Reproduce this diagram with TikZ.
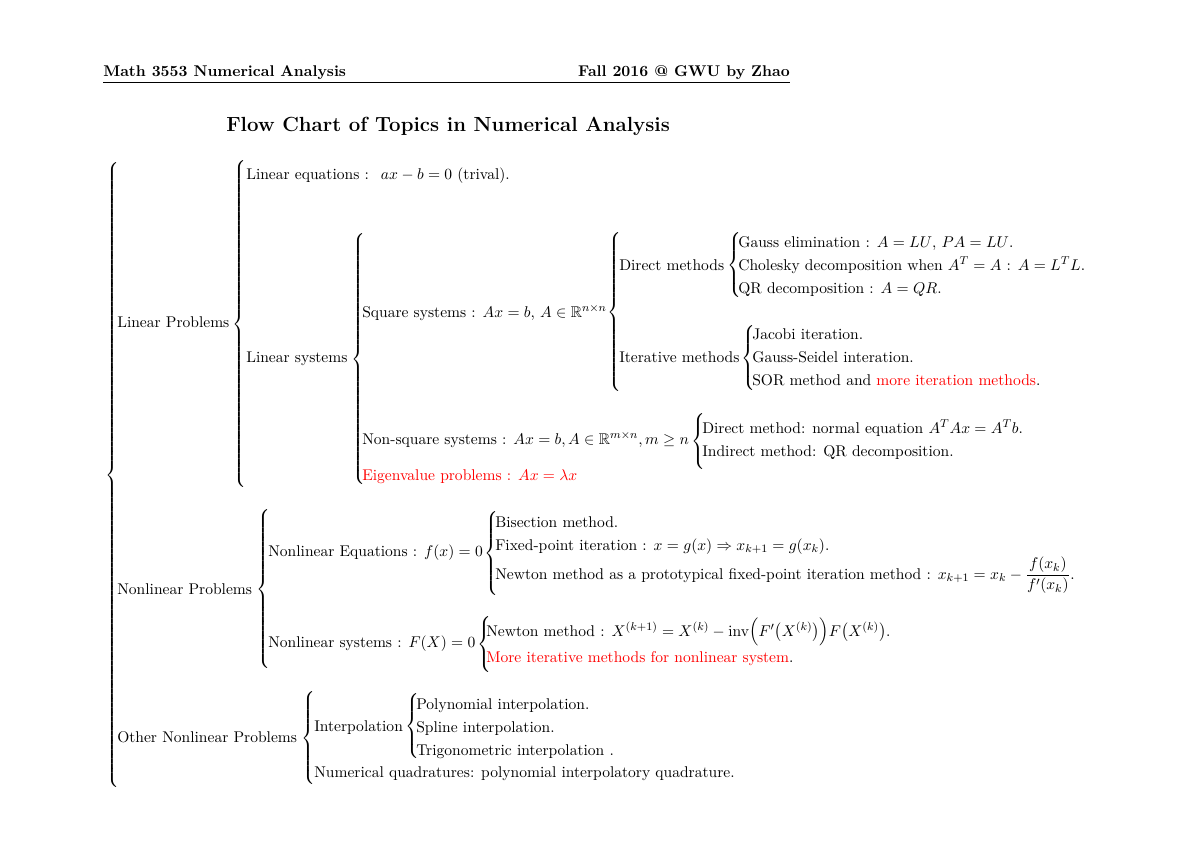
\documentclass[tikz,border=0pt]{standalone}
\usepackage{amsmath}
\usepackage{amssymb}
\delimiterfactor=1000
\delimitershortfall=0pt
\tikzset{
  txt/.style={anchor=base west, inner sep=0pt, font=\fontsize{10.95}{13.6}\selectfont},
  hdr/.style={anchor=base west, inner sep=0pt, font=\fontsize{10.95}{13.6}\selectfont\bfseries},
  hdrr/.style={anchor=base east, inner sep=0pt, font=\fontsize{10.95}{13.6}\selectfont\bfseries},
  ttl/.style={anchor=base west, inner sep=0pt, font=\fontsize{14.4}{18}\selectfont\bfseries},
  brc/.style={anchor=west, inner sep=0pt, font=\fontsize{10.95}{13.6}\selectfont},
  rulestyle/.style={line width=0.4pt},
}
\newcommand{\bracefor}[1]{\pgfmathsetmacro\bh{#1*0.7016-2.75}$\left\{\vrule height \bh pt depth \bh pt width 0pt\right.$}
\begin{document}
\begin{tikzpicture}[x=0.2475mm, y=-0.2475mm]
\fill[white] (0,0) rectangle (1200,849);
\useasboundingbox (0,0) rectangle (1200,849);

% header
\node[hdr] (hl) at (103,76) {Math 3553 Numerical Analysis};
\node[hdrr] (hr) at (790,76) {Fall 2016 @ GWU by Zhao};
\coordinate (r1) at (103,82);
\coordinate (r2) at (790,82);
\draw[rulestyle] (r1) -- (r2);
\node[ttl] (title) at (226,131) {Flow Chart of Topics in Numerical Analysis};

% outer brace
\node[brc] (b0) at (105,475) {\bracefor{313}};

% Linear problems
\node[txt] (lp) at (117,327) {Linear Problems};
\node[brc] (b1) at (232,324) {\bracefor{162.5}};
\node[txt] (le) at (246,179) {Linear equations : \ $ax-b=0$ (trival).};
\node[txt] (ls) at (246,362) {Linear systems};
\node[brc] (b2) at (351,359) {\bracefor{126}};
\node[txt] (sq) at (362,317) {Square systems : $Ax=b$, $A\in\mathbb{R}^{n\times n}$};
\node[brc] (b3) at (607,312) {\bracefor{79.5}};
\node[txt] (dm) at (619,270) {Direct methods};
\node[brc] (b4) at (727,265) {\bracefor{32.5}};
\node[txt] (ge) at (738,247) {Gauss elimination : $A=LU$, $PA=LU$.};
\node[txt] (ch) at (738,270) {Cholesky decomposition when $A^T=A$ : $A=L^TL$.};
\node[txt] (qr) at (738,293) {QR decomposition : $A=QR$.};
\node[txt] (im) at (619,362) {Iterative methods};
\node[brc] (b5) at (741,358) {\bracefor{31.5}};
\node[txt] (ja) at (752,339) {Jacobi iteration.};
\node[txt] (gs) at (752,362) {Gauss-Seidel interation.};
\node[txt] (sor) at (752,385) {SOR method and \textcolor{red}{more iteration methods}.};
\node[txt] (ns) at (362,444) {Non-square systems : $Ax=b, A\in\mathbb{R}^{m\times n}, m\ge n$};
\node[brc] (b6) at (691,441) {\bracefor{23.5}};
\node[txt] (ne) at (702,433) {Direct method: normal equation $A^TAx=A^Tb$.};
\node[txt] (iqr) at (702,456) {Indirect method: QR decomposition.};
\node[txt, text=red] (ev) at (362,480) {Eigenvalue problems : $Ax=\lambda x$};

% Nonlinear problems
\node[txt] (np) at (117,594) {Nonlinear Problems};
\node[brc] (b7) at (256,589) {\bracefor{79}};
\node[txt] (neq) at (268,556) {Nonlinear Equations : $f(x)=0$};
\node[brc] (b8) at (484,553) {\bracefor{41.5}};
\node[txt] (bis) at (495,527) {Bisection method.};
\node[txt] (fp) at (495,550) {Fixed-point iteration : $x=g(x)\Rightarrow x_{k+1}=g(x_k)$.};
\node[txt] (nw) at (495,579) {Newton method as a prototypical fixed-point iteration method : $x_{k+1}=x_k-\dfrac{f(x_k)}{f'(x_k)}$.};
\node[txt] (nsys) at (268,647) {Nonlinear systems : $F(X)=0$};
\node[brc] (b9) at (477,644) {\bracefor{24}};
\node[txt] (nws) at (486,636) {Newton method : $X^{(k+1)}=X^{(k)}-\mathrm{inv}\Big(F'\big(X^{(k)}\big)\Big)F\big(X^{(k)}\big)$.};
\node[txt] (mit) at (486,662) {\textcolor{red}{More iterative methods for nonlinear system}.};

% Other nonlinear problems
\node[txt] (onp) at (117,742) {Other Nonlinear Problems};
\node[brc] (b10) at (301,738) {\bracefor{46.5}};
\node[txt] (ip) at (314,731) {Interpolation};
\node[brc] (b11) at (405,726) {\bracefor{32.5}};
\node[txt] (pi) at (416,709) {Polynomial interpolation.};
\node[txt] (si) at (416,732) {Spline interpolation.};
\node[txt] (ti) at (416,755) {Trigonometric interpolation .};
\node[txt] (nq) at (314,777) {Numerical quadratures: polynomial interpolatory quadrature.};
\end{tikzpicture}
\end{document}
